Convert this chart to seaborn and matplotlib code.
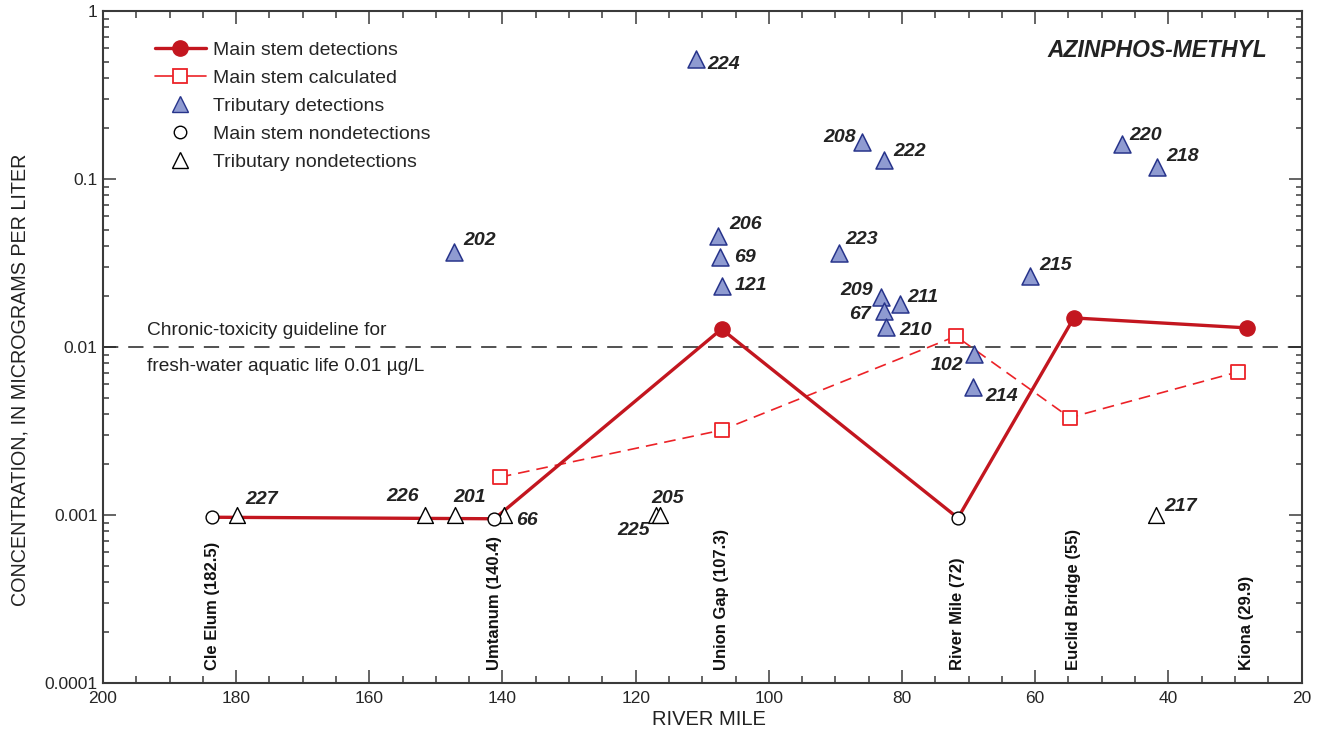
import matplotlib
matplotlib.use('Agg')
import matplotlib.pyplot as plt
import matplotlib.transforms as mtransforms
from matplotlib.lines import Line2D
from matplotlib.ticker import FixedLocator, LogLocator, MultipleLocator, NullFormatter, FuncFormatter
import pandas as pd
import seaborn as sns

# Main stem sites: river mile as plotted, concentration (ug/L), detected or not
main_station = ['Cle Elum (182.5)', 'Umtanum (140.4)', 'Union Gap (107.3)',
                'River Mile (72)', 'Euclid Bridge (55)', 'Kiona (29.9)']
main_mile = [183.6, 141.2, 107.1, 71.6, 54.2, 28.2]
main_conc = [0.00097, 0.00095, 0.0128, 0.00096, 0.0149, 0.0130]
main_detected = [False, False, True, False, True, True]

# Main stem calculated values
calc_mile = [140.4, 107.1, 71.9, 54.8, 29.6]
calc_conc = [0.00168, 0.0032, 0.0116, 0.0038, 0.0071]

# Tributary detections
trib_id = ['224', '208', '222', '220', '218', '202', '206', '69', '121', '223',
           '209', '67', '211', '210', '215', '102', '214']
trib_mile = [110.9, 86.0, 82.7, 47.0, 41.7, 147.3, 107.6, 107.3, 107.0, 89.4,
             83.1, 82.7, 80.3, 82.4, 60.8, 69.2, 69.3]
trib_conc = [0.52, 0.166, 0.130, 0.162, 0.118, 0.0367, 0.0458, 0.0343, 0.0231, 0.0363,
             0.0199, 0.0164, 0.0180, 0.0132, 0.0265, 0.0091, 0.0058]

# Tributary nondetections (plotted at reporting level)
nd_id = ['227', '226', '201', '66', '225', '205', '217']
nd_mile = [179.9, 151.7, 147.2, 139.7, 117.0, 116.3, 41.9]
nd_conc = [0.001, 0.001, 0.001, 0.001, 0.001, 0.001, 0.001]

guideline = 0.01

# label offsets in pixels (dx, dy, ha) for each site id
trib_off = {'224': (11, -6, 'left'), '208': (-6, 5, 'right'), '222': (9, 8, 'left'),
            '220': (8, 8, 'left'), '218': (9, 10, 'left'), '202': (9, 12, 'left'),
            '206': (11, 12, 'left'), '69': (14, 0, 'left'), '121': (12, 0, 'left'),
            '223': (6, 13, 'left'), '209': (-8, 6, 'right'), '67': (-13, -4, 'right'),
            '211': (7, 7, 'left'), '210': (13, -4, 'left'), '215': (9, 10, 'left'),
            '102': (-11, -12, 'right'), '214': (12, -10, 'left')}
nd_off = {'227': (9, 16, 'left'), '226': (-6, 19, 'right'), '201': (-1, 18, 'left'),
          '66': (12, -5, 'left'), '225': (-6, -15, 'right'), '205': (-9, 17, 'left'),
          '217': (9, 9, 'left')}

red = '#C3161F'
red2 = '#EC2227'
blue_face = '#8F9BD1'
blue_edge = '#27348B'
axis_col = '#3A3A3A'
text_col = '#222222'

sns.set_style('ticks')
plt.rcParams['font.family'] = ['Liberation Sans', 'DejaVu Sans']

main_df = pd.DataFrame({'mile': main_mile, 'conc': main_conc, 'detected': main_detected})
calc_df = pd.DataFrame({'mile': calc_mile, 'conc': calc_conc})
trib_df = pd.DataFrame({'id': trib_id, 'mile': trib_mile, 'conc': trib_conc})
nd_df = pd.DataFrame({'id': nd_id, 'mile': nd_mile, 'conc': nd_conc})

fig, ax = plt.subplots(figsize=(13.2, 7.36), dpi=100)
fig.subplots_adjust(left=0.078, right=0.986, top=0.985, bottom=0.072)

ax.set_yscale('log')

# guideline
ax.axhline(guideline, color=text_col, lw=1.1, dashes=(10, 6.5), zorder=1)
tr = mtransforms.blended_transform_factory(ax.transAxes, ax.transData)
ax.annotate('Chronic-toxicity guideline for', xy=(0.037, guideline), xycoords=tr,
            xytext=(0, 17), textcoords='offset pixels', va='center', ha='left',
            fontsize=13.8, color=text_col)
ax.annotate('fresh-water aquatic life 0.01 µg/L', xy=(0.037, guideline), xycoords=tr,
            xytext=(0, -19), textcoords='offset pixels', va='center', ha='left',
            fontsize=13.8, color=text_col)

# main stem lines
sns.lineplot(data=main_df, x='mile', y='conc', sort=False, estimator=None,
             color=red, lw=2.4, ax=ax, zorder=3)
sns.lineplot(data=calc_df, x='mile', y='conc', sort=False, estimator=None,
             color=red2, lw=1.2, linestyle=(0, (7, 4.2)), ax=ax, zorder=2)

# markers
sns.scatterplot(data=calc_df, x='mile', y='conc', marker='s', s=100, color='white',
                edgecolor=red2, linewidth=1.3, ax=ax, zorder=4)
sns.scatterplot(data=main_df[main_df.detected], x='mile', y='conc', marker='o', s=120,
                color=red, edgecolor=red, linewidth=1, ax=ax, zorder=5)
sns.scatterplot(data=main_df[~main_df.detected], x='mile', y='conc', marker='o', s=85,
                color='white', edgecolor='black', linewidth=1, ax=ax, zorder=5)
sns.scatterplot(data=trib_df, x='mile', y='conc', marker='^', s=150, color=blue_face,
                edgecolor=blue_edge, linewidth=1.1, ax=ax, zorder=5)
sns.scatterplot(data=nd_df, x='mile', y='conc', marker='^', s=130, color='white',
                edgecolor='black', linewidth=1, ax=ax, zorder=4)

# site labels
for df, offs in ((trib_df, trib_off), (nd_df, nd_off)):
    for _, r in df.iterrows():
        dx, dy, ha = offs[r['id']]
        ax.annotate(r['id'], xy=(r['mile'], r['conc']), xytext=(dx, dy),
                    textcoords='offset pixels', ha=ha, va='center', fontsize=14,
                    fontweight='bold', fontstyle='italic', color=text_col, zorder=6)

# station names along the bottom
trx = mtransforms.blended_transform_factory(ax.transData, ax.transAxes)
for m, name in zip(main_mile, main_station):
    ax.text(m, 0.019, name, transform=trx, rotation=90, ha='center', va='bottom',
            fontsize=12, fontweight='bold', color='#111111')

ax.text(0.9716, 0.942, 'AZINPHOS-METHYL', transform=ax.transAxes, ha='right', va='center',
        fontsize=16.5, fontweight='bold', fontstyle='italic', color=text_col)

# axes
ax.set_xlim(200, 20)
ax.set_ylim(0.0001, 1)
ax.xaxis.set_major_locator(MultipleLocator(20))
ax.xaxis.set_minor_locator(MultipleLocator(5))
ax.yaxis.set_major_locator(FixedLocator([0.0001, 0.001, 0.01, 0.1, 1]))
ax.yaxis.set_minor_locator(LogLocator(base=10, subs=range(2, 10), numticks=20))
ax.yaxis.set_minor_formatter(NullFormatter())
ylabels = {0.0001: '0.0001', 0.001: '0.001', 0.01: '0.01', 0.1: '0.1', 1: '1'}
ax.yaxis.set_major_formatter(FuncFormatter(lambda v, p: ylabels.get(round(v, 6), '')))
ax.tick_params(which='both', direction='in', top=True, right=True, color=axis_col, width=1.1)
ax.tick_params(axis='x', which='major', length=9.5, pad=6, labelsize=12.5)
ax.tick_params(axis='x', which='minor', length=5)
ax.tick_params(axis='y', which='major', length=9.5, pad=4, labelsize=12.5)
ax.tick_params(axis='y', which='minor', length=4)
for sp in ax.spines.values():
    sp.set_color(axis_col)
    sp.set_linewidth(1.5)

ax.set_xlabel('RIVER MILE', fontsize=14.5, color=text_col)
ax.set_ylabel('CONCENTRATION, IN MICROGRAMS PER LITER', fontsize=14.2, color=text_col)
ax.xaxis.set_label_coords(0.506, -0.04)
ax.yaxis.set_label_coords(-0.061, 0.451)

handles = [
    Line2D([], [], color=red, lw=2.4, marker='o', ms=11, mfc=red, mec=red),
    Line2D([], [], color=red2, lw=1.2, marker='s', ms=10, mfc='white', mec=red2, mew=1.3),
    Line2D([], [], ls='none', marker='^', ms=12, mfc=blue_face, mec=blue_edge),
    Line2D([], [], ls='none', marker='o', ms=9, mfc='white', mec='black'),
    Line2D([], [], ls='none', marker='^', ms=11.5, mfc='white', mec='black'),
]
labels = ['Main stem detections', 'Main stem calculated', 'Tributary detections',
          'Main stem nondetections', 'Tributary nondetections']
ax.legend(handles, labels, loc='upper left', bbox_to_anchor=(0.0434, 0.955), frameon=False,
          fontsize=14, handlelength=2.6, handletextpad=0.36, labelspacing=0.53,
          borderaxespad=0, borderpad=0)

fig.savefig('out.png', dpi=100)
